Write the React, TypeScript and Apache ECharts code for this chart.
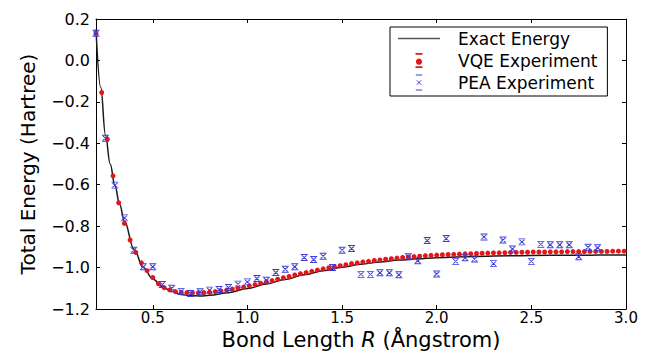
import React, { useEffect, useRef } from "react";
import * as echarts from "echarts";

// ---- data ----
const exactR = [0.2, 0.225, 0.25, 0.275, 0.3, 0.325, 0.35, 0.4, 0.45, 0.5, 0.55, 0.6, 0.65, 0.7, 0.75, 0.8, 0.9, 1.0, 1.1, 1.2, 1.3, 1.4, 1.5, 1.6, 1.7, 1.8, 1.9, 2.0, 2.2, 2.4, 2.6, 2.8, 3.0];
const exactE = [0.15, -0.13, -0.36, -0.5, -0.605, -0.695, -0.775, -0.91, -1.0, -1.055, -1.092, -1.116, -1.13, -1.136, -1.137, -1.134, -1.121, -1.101, -1.079, -1.057, -1.035, -1.015, -0.998, -0.984, -0.973, -0.964, -0.957, -0.952, -0.946, -0.943, -0.941, -0.94, -0.939];

const vqeR = [0.20, 0.23, 0.26, 0.29, 0.32, 0.35, 0.38, 0.41, 0.44, 0.47, 0.50, 0.53, 0.56, 0.59, 0.62, 0.65, 0.68, 0.71, 0.74, 0.77, 0.80, 0.83, 0.86, 0.89, 0.92, 0.95, 0.98, 1.01, 1.04, 1.07, 1.10, 1.13, 1.16, 1.19, 1.22, 1.25, 1.28, 1.31, 1.34, 1.37, 1.40, 1.43, 1.46, 1.49, 1.52, 1.55, 1.58, 1.61, 1.64, 1.67, 1.70, 1.73, 1.76, 1.79, 1.82, 1.85, 1.88, 1.91, 1.94, 1.97, 2.00, 2.03, 2.06, 2.09, 2.12, 2.15, 2.18, 2.21, 2.24, 2.27, 2.30, 2.33, 2.36, 2.39, 2.42, 2.45, 2.48, 2.51, 2.54, 2.57, 2.60, 2.63, 2.66, 2.69, 2.72, 2.75, 2.78, 2.81, 2.84, 2.87, 2.90, 2.93, 2.96, 2.99];
const vqeE = [0.13, -0.155, -0.38, -0.557, -0.687, -0.787, -0.867, -0.927, -0.977, -1.015, -1.048, -1.078, -1.097, -1.108, -1.116, -1.119, -1.121, -1.122, -1.122, -1.121, -1.119, -1.116, -1.113, -1.109, -1.104, -1.099, -1.094, -1.088, -1.082, -1.076, -1.069, -1.063, -1.056, -1.049, -1.043, -1.036, -1.03, -1.024, -1.018, -1.012, -1.006, -1.001, -0.996, -0.991, -0.986, -0.981, -0.977, -0.973, -0.97, -0.966, -0.963, -0.96, -0.957, -0.954, -0.951, -0.949, -0.947, -0.945, -0.943, -0.941, -0.94, -0.938, -0.937, -0.936, -0.935, -0.934, -0.933, -0.932, -0.931, -0.93, -0.929, -0.929, -0.928, -0.927, -0.927, -0.926, -0.926, -0.925, -0.925, -0.925, -0.924, -0.924, -0.924, -0.923, -0.923, -0.923, -0.923, -0.922, -0.922, -0.922, -0.922, -0.921, -0.921, -0.921];

const peaR = [0.20, 0.25, 0.30, 0.35, 0.40, 0.45, 0.50, 0.55, 0.60, 0.65, 0.70, 0.75, 0.80, 0.85, 0.90, 0.95, 1.00, 1.05, 1.10, 1.15, 1.20, 1.25, 1.30, 1.35, 1.40, 1.45, 1.50, 1.55, 1.60, 1.65, 1.70, 1.75, 1.80, 1.85, 1.90, 1.95, 2.00, 2.05, 2.10, 2.15, 2.20, 2.25, 2.30, 2.35, 2.40, 2.45, 2.50, 2.55, 2.60, 2.65, 2.70, 2.75, 2.80, 2.85];
const peaE = [0.131, -0.376, -0.602, -0.76, -0.916, -0.996, -0.996, -1.082, -1.1, -1.115, -1.125, -1.117, -1.109, -1.106, -1.096, -1.08, -1.069, -1.053, -1.061, -1.024, -1.008, -0.996, -0.951, -0.961, -0.945, -1.0, -0.916, -0.908, -1.033, -1.033, -1.025, -1.025, -1.035, -0.948, -0.967, -0.869, -1.031, -0.86, -0.97, -0.953, -0.959, -0.852, -0.981, -0.867, -0.91, -0.876, -0.97, -0.888, -0.89, -0.89, -0.89, -0.948, -0.902, -0.904];

const xTicks = [0.5, 1.0, 1.5, 2.0, 2.5, 3.0];
const seriesNames = ["Exact Energy", "VQE Experiment", "PEA Experiment"];

const FONT = "DejaVu Sans";
const RED = "#e3161c";
const BLUE = "#3c3cd8";
const PEA_SYMBOL = "path://M0,0H8M0,9H8M1.2,1.3L6.8,7.7M6.8,1.3L1.2,7.7";
const LINE_ICON = "path://M0,0H42V1.5H0Z";
const VQE_ICON = "path://M2,0H6V1H2Z M4,3.2A1.8,1.8,0,1,1,3.99,3.2Z M2,7.6H6V8.6H2Z";
const PEA_ICON = "path://M0,0H6M0,14H6M1,5L5,9M5,5L1,9";

const fmtY = (v: number) => {
  if (Math.abs(v) < 1e-9) return "0.0";
  return v < 0 ? "\u2212" + Math.abs(v).toFixed(1) : v.toFixed(1);
};

export default function App() {
  const ref = useRef<HTMLDivElement>(null);
  useEffect(() => {
    if (!ref.current) return;
    const chart = echarts.init(ref.current, undefined, { renderer: "svg" });
    const axisLine = { show: true, onZero: false, lineStyle: { color: "#000", width: 1 } };
    chart.setOption({
      animation: false,
      backgroundColor: "#fff",
      grid: { left: 96, right: 28, top: 19, bottom: 45, containLabel: false, outerBoundsMode: "none", show: false },
      legend: {
        orient: "vertical",
        left: 390,
        top: 27,
        padding: [3, 10, 5, 8],
        itemWidth: 42,
        itemHeight: 15,
        itemGap: 5,
        borderColor: "#000",
        borderWidth: 1,
        backgroundColor: "#fff",
        textStyle: { fontFamily: FONT, fontSize: 17, color: "#000", padding: [0, 0, 0, 13] },
        data: [
          { name: seriesNames[0], icon: LINE_ICON, itemStyle: { color: "#555" } },
          { name: seriesNames[1], icon: VQE_ICON },
          { name: seriesNames[2], icon: PEA_ICON, itemStyle: { borderWidth: 1, borderColor: BLUE, color: "transparent" } },
        ],
      },
      xAxis: [
        {
          type: "value",
          min: 0.2,
          max: 3.0,
          name: "{n|Bond Length }{i|R}{n| (\u00c5ngstrom)}",
          nameLocation: "middle",
          nameGap: 20,
          nameMoveOverlap: false,
          nameTextStyle: {
            verticalAlign: "top",
            rich: {
              n: { fontFamily: FONT, fontSize: 21, color: "#000" },
              i: { fontFamily: FONT, fontSize: 21, color: "#000", fontStyle: "italic" },
            },
          },
          axisLine,
          splitLine: { show: false },
          axisTick: { show: true, inside: true, length: 4, customValues: xTicks, lineStyle: { color: "#000" } },
          axisLabel: { show: true, customValues: xTicks, margin: 1, fontFamily: FONT, fontSize: 15, color: "#000", formatter: (v: number) => v.toFixed(1) },
        },
        {
          type: "value",
          position: "top",
          min: 0.2,
          max: 3.0,
          axisLine,
          splitLine: { show: false },
          axisTick: { show: true, inside: true, length: 4, customValues: xTicks, lineStyle: { color: "#000" } },
          axisLabel: { show: false },
        },
      ],
      yAxis: [
        {
          type: "value",
          min: -1.2,
          max: 0.2,
          interval: 0.2,
          name: "Total Energy (Hartree)",
          nameLocation: "middle",
          nameGap: 58,
          nameMoveOverlap: false,
          nameTextStyle: { fontFamily: FONT, fontSize: 20, color: "#000" },
          axisLine,
          splitLine: { show: false },
          axisTick: { show: true, inside: true, length: 4, lineStyle: { color: "#000" } },
          axisLabel: { margin: 6, fontFamily: FONT, fontSize: 16, color: "#000", formatter: fmtY },
        },
        {
          type: "value",
          position: "right",
          min: -1.2,
          max: 0.2,
          interval: 0.2,
          axisLine,
          splitLine: { show: false },
          axisTick: { show: true, inside: true, length: 4, lineStyle: { color: "#000" } },
          axisLabel: { show: false },
        },
      ],
      series: [
        {
          name: seriesNames[0],
          type: "line",
          data: exactR.map((r, i) => [r, exactE[i]]),
          smooth: 0.4,
          smoothMonotone: "x",
          symbol: "none",
          lineStyle: { color: "#1a1a1a", width: 1.5 },
          itemStyle: { color: "#555" },
          z: 2,
        },
        {
          name: seriesNames[1],
          type: "scatter",
          data: vqeR.map((r, i) => [r, vqeE[i]]),
          symbol: "circle",
          symbolSize: 5,
          itemStyle: { color: RED, opacity: 1 },
          z: 3,
        },
        {
          name: seriesNames[2],
          type: "scatter",
          data: peaR.map((r, i) => [r, peaE[i]]),
          symbol: PEA_SYMBOL,
          symbolSize: [7, 6],
          symbolKeepAspect: false,
          itemStyle: { color: "transparent", borderColor: BLUE, borderWidth: 1, opacity: 1 },
          z: 4,
        },
      ],
    });
    return () => chart.dispose();
  }, []);
  return (
    <div
      ref={ref}
      style={{ position: "fixed", left: 0, top: 0, width: 654, height: 354, background: "#fff" }}
    />
  );
}
